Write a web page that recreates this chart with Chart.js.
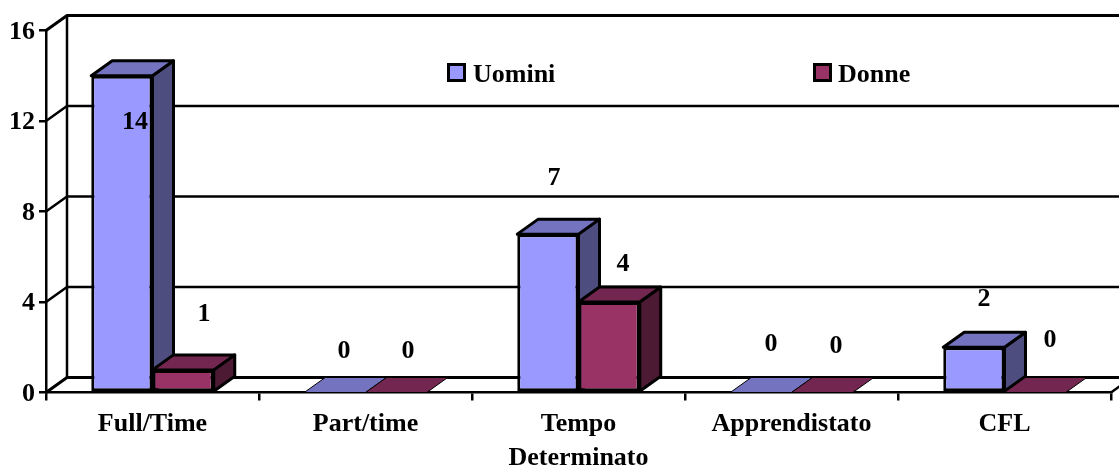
<!DOCTYPE html>
<html>
<head>
<meta charset="utf-8">
<title>Uomini e Donne</title>
<script src="https://cdn.jsdelivr.net/npm/chart.js@4/dist/chart.umd.min.js"></script>
<style>
html, body { margin: 0; padding: 0; background: #fff; }
canvas { display: block; }
</style>
</head>
<body>
<canvas id="barChart" width="1119" height="466"></canvas>
<script>
// chart values
var categories = ['Full/Time', 'Part/time', ['Tempo', 'Determinato'], 'Apprendistato', 'CFL'];
var uomini = [14, 0, 7, 0, 2];
var donne = [1, 0, 4, 0, 0];
var yTicks = [0, 4, 8, 12, 16];

// the value labels sit loosely around the bars, offset from the bar top centre [dx, dy]
var uominiLabelShift = [[13, 47], [9, -41], [6, -56], [10, -48], [10, -48]];
var donneLabelShift = [[21, -56], [12, -41], [14, -38], [14, -46], [15, -52]];

var labelFont = 'bold 26px "Liberation Serif"';
var depthX = 21;
var depthY = -15;
var lineColor = '#000';

function poly(ctx, points, fill) {
    ctx.beginPath();
    points.forEach(function(p, i) {
        if (i === 0) ctx.moveTo(p[0], p[1]);
        else ctx.lineTo(p[0], p[1]);
    });
    ctx.closePath();
    ctx.fillStyle = fill;
    ctx.fill();
    ctx.stroke();
}

// back wall, grid lines and the top/side faces of the bars
var box3d = {
    id: 'box3d',
    beforeDatasetsDraw: function(chart) {
        var ctx = chart.ctx;
        var area = chart.chartArea;
        var y = chart.scales.y;
        ctx.save();
        ctx.strokeStyle = lineColor;
        ctx.lineCap = 'butt';
        ctx.lineJoin = 'round';
        yTicks.forEach(function(v) {
            var py = y.getPixelForValue(v);
            ctx.lineWidth = (v === 0 || v === 16) ? 3 : 2.5;
            ctx.beginPath();
            ctx.moveTo(area.left, py);
            ctx.lineTo(area.left + depthX, py + depthY);
            ctx.lineTo(chart.width + 5, py + depthY);
            ctx.stroke();
        });
        ctx.lineWidth = 2.5;
        ctx.beginPath();
        ctx.moveTo(area.left + depthX, area.top + depthY);
        ctx.lineTo(area.left + depthX, area.bottom + depthY);
        ctx.moveTo(area.right, area.bottom);
        ctx.lineTo(area.right + depthX, area.bottom + depthY);
        ctx.stroke();

        var sides = [['#4D4D80', '#7373BF'], ['#4D1A33', '#732650']];
        chart.data.datasets.forEach(function(ds, d) {
            chart.getDatasetMeta(d).data.forEach(function(bar) {
                var l = bar.x - bar.width / 2;
                var r = bar.x + bar.width / 2;
                ctx.lineWidth = 3;
                if (bar.base - bar.y > 0) {
                    poly(ctx, [[r, bar.y], [r + depthX, bar.y + depthY], [r + depthX, bar.base + depthY], [r, bar.base]], sides[d][0]);
                }
                ctx.lineWidth = bar.base - bar.y > 0 ? 3 : 1;
                poly(ctx, [[l, bar.y], [l + depthX, bar.y + depthY], [r + depthX, bar.y + depthY], [r, bar.y]], sides[d][1]);
            });
        });
        ctx.restore();
    },
    afterDatasetsDraw: function(chart) {
        var ctx = chart.ctx;
        var y = chart.scales.y;
        ctx.save();
        ctx.font = labelFont;
        ctx.fillStyle = '#000';
        ctx.textAlign = 'center';
        ctx.textBaseline = 'middle';
        // value labels
        [uominiLabelShift, donneLabelShift].forEach(function(shift, d) {
            chart.getDatasetMeta(d).data.forEach(function(bar, i) {
                ctx.fillText(chart.data.datasets[d].data[i], bar.x + shift[i][0], bar.y + shift[i][1]);
            });
        });
        // y labels sit a little under their tick in the original
        ctx.textAlign = 'right';
        yTicks.forEach(function(v) {
            ctx.fillText(v, 35, y.getPixelForValue(v) + 1.5);
        });
        // legend, inside the plot
        var legendX = [448.5, 814.5];
        var legendTextX = [473, 838];
        ctx.textAlign = 'left';
        chart.data.datasets.forEach(function(ds, d) {
            ctx.fillStyle = ds.backgroundColor;
            ctx.strokeStyle = lineColor;
            ctx.lineWidth = 3;
            ctx.fillRect(legendX[d], 64.5, 16, 16);
            ctx.strokeRect(legendX[d], 64.5, 16, 16);
            ctx.fillStyle = '#000';
            ctx.fillText(ds.label, legendTextX[d], 75);
        });
        ctx.restore();
    }
};

var ctx = document.getElementById('barChart').getContext('2d');
new Chart(ctx, {
    type: 'bar',
    data: {
        labels: categories,
        datasets: [
            { label: 'Uomini', data: uomini, backgroundColor: '#9999FF', borderColor: lineColor, borderWidth: 3, borderSkipped: false, categoryPercentage: 0.575, barPercentage: 1 },
            { label: 'Donne', data: donne, backgroundColor: '#993366', borderColor: lineColor, borderWidth: 3, borderSkipped: false, categoryPercentage: 0.575, barPercentage: 1 }
        ]
    },
    options: {
        responsive: false,
        animation: false,
        layout: { padding: { top: 30.5, right: 8, left: 0, bottom: 0 } },
        plugins: { legend: { display: false }, tooltip: { enabled: false } },
        scales: {
            x: {
                afterFit: function(scale) { scale.height = 73.5; },
                grid: { drawOnChartArea: false, tickLength: 8, color: lineColor, lineWidth: 2.5 },
                border: { color: lineColor, width: 2.5 },
                ticks: { color: '#000', padding: 7, maxRotation: 0, autoSkip: false, font: { family: 'Liberation Serif', weight: 'bold', size: 26, lineHeight: 1.3 } }
            },
            y: {
                min: 0,
                max: 16,
                afterFit: function(scale) { scale.width = 46; },
                afterBuildTicks: function(scale) { scale.ticks = yTicks.map(function(v) { return { value: v }; }); },
                grid: { drawOnChartArea: false, tickLength: 7, color: lineColor, lineWidth: 2.5 },
                border: { color: lineColor, width: 2.5 },
                ticks: { display: false }
            }
        }
    },
    plugins: [box3d]
});
</script>
</body>
</html>
